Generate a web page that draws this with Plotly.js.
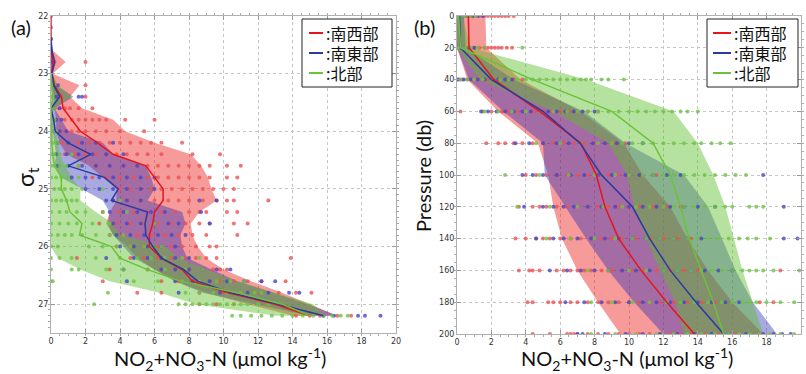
<!DOCTYPE html>
<html><head><meta charset="utf-8">
<script src="https://cdn.plot.ly/plotly-3.0.1.min.js"></script>
<style>html,body{margin:0;padding:0;background:#fff}#chart{width:806px;height:374px}</style>
</head><body><div id="chart"></div>
<script>
// ---------- Names ----------
const seriesNames = ['南西部', '南東部', '北部'];
const xTicks = [0, 2, 4, 6, 8, 10, 12, 14, 16, 18, 20];
const sigmaTicks = [22, 23, 24, 25, 26, 27];
const pressTicks = [0, 20, 40, 60, 80, 100, 120, 140, 160, 180, 200];

// ---------- Panel (a): sigma-t ----------
const aSigRed = [22.0,22.2,22.4,22.6,22.8,23.0,23.2,23.4,23.6,23.8,24.0,24.2,24.4,24.6,24.8,25.0,25.2,25.4,25.6,25.8,26.0,26.2,26.4,26.6,26.8,27.0,27.2];
const aMeanRed = [0,0,0,0,0.1,0.05,0.2,0.6,0.7,1.2,1.7,2.7,3.6,5.5,6.0,6.5,6.5,6.0,5.9,5.7,5.7,6.4,7.6,8.2,10.2,13.0,15.0];
const aLowRed  = [0,0,0,0,0,0,0,0.2,0.2,0.3,0.3,0.5,0.9,2.2,3.0,3.8,3.8,3.4,3.2,3.6,4.4,5.0,6.0,7.2,9.0,11.4,14.0];
const aHighRed = [0,0,0,0.1,0.85,0.1,1.65,1.1,1.8,3.6,4.3,6.0,8.1,8.7,9.1,9.3,9.6,8.6,8.1,8.2,8.5,9.0,10.0,11.6,13.4,15.0,16.6];

const aSigBlue = [22.4,22.6,22.8,23.0,23.2,23.4,23.6,23.8,24.0,24.2,24.4,24.6,24.8,25.0,25.2,25.4,25.6,25.8,26.0,26.2,26.4,26.6,26.8,27.0,27.2];
const aMeanBlue = [0,0.05,0.2,0.05,0.15,0.5,0,0.15,0.25,1.0,2.3,1.0,3.1,3.9,3.5,5.6,5.45,5.5,5.9,6.4,7.7,8.5,10.4,13.2,15.8];
const aLowBlue  = [0,0,0,0,0,0.1,0,0,0.1,0.2,0.3,0.2,0.6,1.8,3.0,3.4,3.3,3.6,4.2,4.8,6.0,7.2,8.8,11.8,15.0];
const aHighBlue = [0.05,0.1,0.3,0.1,0.3,1.3,0.2,0.6,1.0,3.0,3.6,5.5,5.8,6.0,5.6,7.6,7.8,7.5,7.6,7.9,9.3,10.8,12.8,14.9,16.6];

const aSigGreen = [23.0,23.2,23.4,23.6,23.8,24.0,24.2,24.4,24.6,24.8,25.0,25.2,25.4,25.6,25.8,26.0,26.2,26.4,26.6,26.8,27.0,27.2];
const aMeanGreen = [0,0.05,0.1,0,0,0.05,0.05,0.1,0.2,0.6,0.6,0.9,1.1,1.8,1.65,3.5,4.0,5.6,7.5,10.8,13.4,15.0];
const aLowGreen  = [0,0,0,0,0,0,0,0,0,0,0,0,0,0,0,0,0.4,1.7,3.4,6.3,8.4,13.0];
const aHighGreen = [0.1,0.4,1.2,0.1,0.2,0.3,0.4,0.5,0.8,1.2,1.7,1.7,2.6,3.6,4.0,6.6,7.4,9.0,10.8,13.0,15.2,16.0];

// observations per sigma level (panel a)
const aPtSigRed = aSigRed;
const aPtRed = [[0],[0],[0],[0],[0,0.2,2.0],[0],[0.2,2.0],[0.3,0.6,2.0],[0.2,0.5,0.8,1.1,1.6,2.4],
  [0.3,0.8,1.2,1.6,2.0,2.4,2.8,3.2,4.3,6.0],[0.4,0.8,1.2,1.6,2.0,2.6,3.2,4.0,5.4],
  [0.6,1.0,1.6,2.2,2.8,3.4,4.0,4.6,5.2,5.8,6.4,7.6],[0.8,1.4,2.0,2.6,3.2,3.8,4.4,5.0,5.6,6.4,8.2,9.8],
  [1.6,2.6,3.4,4.2,5.0,5.6,6.2,6.8,7.4,8.0,8.6,9.2,10.2,11.0],[2.4,3.2,4.0,4.8,5.6,6.2,6.8,7.4,8.0,8.6,9.2,10.2,10.8],
  [4.0,4.6,5.2,5.8,6.4,7.0,7.6,8.2,8.8,9.4,10.0,10.6],[3.6,4.4,5.2,6.0,6.8,7.4,8.0,8.8,9.6,10.2,10.6,12.6],
  [3.0,4.0,4.8,5.6,6.4,7.2,8.0,8.6,9.0,10.2,10.8],[2.8,3.8,4.6,5.4,6.2,7.0,7.8,8.6,9.2,10.6,11.4],
  [3.4,4.2,5.0,5.8,6.6,7.4,8.2,9.0,10.8],[3.8,4.6,5.4,6.2,7.0,7.6,8.4,9.2,9.6],
  [1.5,4.6,5.4,6.2,7.0,7.8,8.4,9.0,9.6,13.9],[3.4,5.6,6.4,7.2,8.0,8.8,9.4,9.8,10.2],
  [3.0,6.4,7.4,8.4,9.2,9.8,10.6,11.4,12.2,13.6],[5.0,6.4,8.6,10.0,11.0,12.2,13.2,14.2,15.1],
  [8.6,9.6,10.6],[14.2,15.0,15.6,16.6,17.4]];
const aPtSigBlue = aSigBlue;
const aPtBlue = [[0],[0],[0],[0],[0.4],[0.3,1.6,1.8],[0.2,0.5],[0.3,0.6],[0.2,0.5,0.9],[0.4,1.0,1.8,2.6,3.6],
  [0.3,0.9,1.6,2.4,3.2,4.2],[0.4,1.0,1.8,2.6,3.4,4.2,5.0],[1.2,2.0,2.8,3.6,4.4,5.2,6.0],[2.0,2.8,3.6,4.4,5.2,6.0],
  [3.2,3.6,4.4,5.2,8.6,9.6],[3.4,4.2,5.0,5.8,6.6,8.7],[3.6,4.4,5.2,6.0,6.8,7.4,9.2],[3.8,4.6,5.4,6.2,7.0,7.8],
  [4.0,4.8,5.6,6.4,7.2],[3.2,4.8,5.6,6.4,7.2,8.0],[4.2,6.4,7.2,8.0,8.8,9.6,10.4],[4.4,7.2,8.2,9.2,10.2,11.2,12.2,13.0],
  [7.4,9.8,11.4,12.6,13.8,14.4],[],[15.8,16.4,17.8,18.2,19.1]];
const aPtSigGreen = aSigGreen;
const aPtGreen = [[0],[0,0.2],[0,0.1],[0,0.2],[0,0.2],[0,0.1,0.3],[0,0.2,0.4],[0,0.2,0.5,1.2],[0,0.2,0.5,0.9,1.6],
  [0,0.3,0.6,1.0,1.6],[0.2,0.5,0.8,1.2,1.8,3.0],[0,0.3,0.6,0.9,1.2,1.5,4.0],[0,0.5,0.9,1.5,2.0,3.0,4.4],
  [0,0.5,1.0,1.5,2.4,3.4,6.0],[0,0.4,0.8,1.2,1.8,2.6,3.4,4.2],[0,0.4,2.2,3.0,3.8,4.6,5.4,6.4],
  [0,0.5,1.2,2.6,4.0,5.0,5.8,6.6,7.6,8.6],[0,1.2,1.6,3.2,4.2,5.6,6.6,7.8,8.8],[0,0.1,4.8,6.2,7.6,8.6,9.6,10.4,11.2],
  [3.3,7.8,8.6,9.4,10.2,11.0,11.8,12.2],[2.5,7.4,7.8,8.2,8.6,9.0,9.4,9.8,10.2,10.6,11.0,11.4,12.0,12.6,13.2],
  [10.5,11.0,11.6,12.2,12.8,13.4,14.0,14.6,15.2,15.8,16.3,16.8,17.2]];

// ---------- Panel (b): pressure ----------
const bPress = [0,20,40,60,80,100,120,140,160,180,200];
const bMeanRed = [0.66,0.7,2.15,4.8,7.2,8.1,8.6,9.4,10.7,12.2,13.8];
const bLowRed  = [0,0,0.6,2.4,4.7,5.3,5.6,6.1,7.0,8.2,9.5];
const bHighRed = [1.65,1.7,3.7,7.2,9.7,10.8,12.4,13.4,14.6,16.0,17.8];
const bMeanBlue = [0.15,0.2,2.0,5.0,7.15,8.4,10.2,11.2,12.4,13.9,15.5];
const bLowBlue  = [0,0,0.7,2.7,5.0,5.1,6.3,7.5,8.8,10.3,12.0];
const bHighBlue = [0.4,0.5,3.3,7.4,9.8,13.2,14.6,15.4,16.2,17.2,18.6];
const bMeanGreen = [0.1,0.2,4.4,9.0,11.4,12.4,13.0,13.5,14.2,14.9,15.5];
const bLowGreen  = [0,0,1.3,5.6,8.8,9.9,10.3,11.0,11.8,12.7,13.2];
const bHighGreen = [0.3,0.8,7.5,12.6,14.0,14.9,15.6,16.1,16.6,17.2,17.8];

const bPtRed = [[0.2,0.5,0.8,1.0,1.3,1.6,1.8,2.0,2.2,2.4,2.6,2.8,3.0,3.3],
  [0.1,0.3,0.5,0.7,1.0,1.3,1.6,1.8,2.0,2.2,2.4,2.6,2.9,3.2],
  [0.0,0.3,0.6,0.9,1.2,1.5,1.8,2.1,2.5,2.9,3.3,3.8],
  [0.2,1.5,2.0,2.6,3.0,3.5,4.0,4.5,5.0,5.5,6.0,6.5,7.0,7.6,8.2],
  [1.7,2.4,2.8,3.3,3.8,4.4,5.0,5.6,6.2,6.8,7.4,8.0,8.6,9.2,9.8],
  [4.0,4.6,5.2,5.8,6.4,7.0,7.6,8.2,8.8,9.4,10.0,10.8,11.6],
  [3.6,4.4,4.8,5.2,5.8,6.4,7.0,7.6,8.2,8.8,9.4,10.0,10.6,11.4,12.2,13.0],
  [3.4,4.0,4.6,5.0,5.4,6.0,6.6,7.2,7.8,8.4,9.0,9.6,10.4,11.2,12.0,12.8,13.6],
  [3.6,4.2,4.4,4.8,5.8,6.2,6.6,7.0,7.4,7.8,8.4,9.0,9.6,10.2,10.8,11.6,12.4,13.2,14.0,18.8],
  [4.1,4.4,5.3,5.6,6.0,6.6,7.0,7.6,8.2,8.8,9.4,10.0,10.6,11.2,11.8,12.6,13.4,14.2,15.0,17.6,18.4],
  [4.4,5.4,6.4,6.6,6.8,7.0,7.6,8.2,8.8,9.4,10.0,10.6,11.2,11.8,12.4,13.0,13.6,14.4,15.2,16.2,17.6]];
const bPtBlue = [[0.1,0.3,0.6,0.9,1.2,1.5],[0.0,0.2,0.4,0.7,1.0],[0.1,0.4,0.8,1.2,1.6,2.0,2.4,2.8,3.2],
  [1.4,1.8,2.3,2.8,3.3,3.8,4.3,4.8,5.3,5.8,6.3,6.8,7.3,8.0],
  [3.4,4.2,5.0,5.8,6.5,7.2,7.9,8.6,9.3,10.0,10.8],
  [3.8,4.4,5.0,5.8,6.6,7.4,8.2,9.0,9.8,10.6,11.4,12.2,13.0,17.8],
  [3.9,5.0,5.6,6.2,6.8,7.6,8.4,9.2,10.0,10.8,11.6,12.4,13.2,14.0,15.0,19.0],
  [4.6,5.6,6.2,7.0,7.8,8.6,9.4,10.2,11.0,11.8,12.6,13.4,14.2,19.0,19.8],
  [5.4,6.4,7.2,8.0,8.8,9.6,10.4,11.2,12.0,12.8,13.6,14.4,15.2,16.0],
  [6.3,7.4,8.4,9.2,10.0,10.8,11.6,12.4,13.2,14.0,14.8,15.6,16.4],
  [7.0,7.3,8.6,9.8,10.8,11.8,12.8,13.8,14.8,15.8,16.8,17.8,18.4,18.9,19.4]];
const bPtGreen = [[0.0,0.1,0.2,0.4,0.6,0.8,1.1],[0.0,0.1,0.3,0.5,0.8,1.2,1.6,3.8],
  [0.2,0.6,1.0,1.5,2.0,2.5,3.0,3.5,4.0,4.4,4.8,5.2,5.6,6.0,6.4,6.8,7.2,7.5,7.8,8.4,8.8,9.7],
  [1.6,2.4,3.2,4.0,4.8,5.6,6.4,7.0,7.6,8.2,8.8,9.4,10.0,10.5,11.0,11.5,12.0,12.5,13.0,13.4,14.0],
  [4.6,6.0,7.2,8.2,9.0,9.6,10.2,10.8,11.4,12.0,12.6,13.2,13.8,14.2,14.8,15.3,15.9],
  [2.8,4.8,6.5,8.0,9.2,10.0,10.8,11.4,12.0,12.6,13.2,13.8,14.4,15.0,15.6,16.2,16.8],
  [3.5,5.4,7.0,8.5,9.6,10.4,11.2,12.0,12.6,13.2,13.8,14.4,15.0,15.6,16.0,17.0,17.4,17.8],
  [5.2,6.6,8.0,9.2,10.2,11.0,11.8,12.6,13.4,14.0,14.6,15.2,15.8,16.4,16.9,17.4,18.2],
  [7.6,8.8,10.0,11.0,12.0,12.8,13.6,14.2,14.8,15.4,16.0,16.6,17.0,17.4,17.8,18.4,19.9],
  [7.8,9.0,10.2,11.2,12.2,13.0,13.8,14.6,15.4,16.0,16.6,17.0,17.4,18.0,18.8,19.6],
  [7.8,9.2,10.4,11.6,12.6,13.4,14.2,15.0,15.8,16.4,17.0,17.6,18.2,18.8,19.6]];

// ---------- styles ----------
const W = 806, H = 374;
const lineCol = ['#e8141c', '#2b3a9e', '#6cc13a'];
const fillCol = ['rgba(235,30,30,0.45)', 'rgba(40,40,180,0.40)', 'rgba(90,190,40,0.45)'];
const dotCol = ['rgba(238,80,80,0.8)', 'rgba(70,70,200,0.8)', 'rgba(110,195,70,0.8)'];
const px = v => v / W, py = v => 1 - v / H;

function band(lev, lo, hi, i, xa, ya) {
  return {type: 'scatter', mode: 'lines', x: lo.concat(hi.slice().reverse()), y: lev.concat(lev.slice().reverse()),
    fill: 'toself', fillcolor: fillCol[i], line: {width: 0}, hoverinfo: 'skip', showlegend: false, xaxis: xa, yaxis: ya};
}
function meanLine(lev, m, i, xa, ya) {
  return {type: 'scatter', mode: 'lines', x: m, y: lev, line: {color: lineCol[i], width: 1.5}, name: seriesNames[i],
    showlegend: false, xaxis: xa, yaxis: ya};
}
function pts(lev, lists, i, xa, ya) {
  const x = [], y = [];
  lists.forEach((row, k) => row.forEach(v => { x.push(v); y.push(lev[k]); }));
  return {type: 'scatter', mode: 'markers', x, y, marker: {size: 4, color: dotCol[i]}, hoverinfo: 'skip', showlegend: false, xaxis: xa, yaxis: ya};
}

const traces = [
  band(aSigRed, aLowRed, aHighRed, 0, 'x', 'y'),
  band(aSigBlue, aLowBlue, aHighBlue, 1, 'x', 'y'),
  band(aSigGreen, aLowGreen, aHighGreen, 2, 'x', 'y'),
  pts(aPtSigRed, aPtRed, 0, 'x', 'y'),
  pts(aPtSigBlue, aPtBlue, 1, 'x', 'y'),
  pts(aPtSigGreen, aPtGreen, 2, 'x', 'y'),
  meanLine(aSigRed, aMeanRed, 0, 'x', 'y'),
  meanLine(aSigBlue, aMeanBlue, 1, 'x', 'y'),
  meanLine(aSigGreen, aMeanGreen, 2, 'x', 'y'),
  band(bPress, bLowRed, bHighRed, 0, 'x2', 'y2'),
  band(bPress, bLowBlue, bHighBlue, 1, 'x2', 'y2'),
  band(bPress, bLowGreen, bHighGreen, 2, 'x2', 'y2'),
  pts(bPress, bPtRed, 0, 'x2', 'y2'),
  pts(bPress, bPtBlue, 1, 'x2', 'y2'),
  pts(bPress, bPtGreen, 2, 'x2', 'y2'),
  meanLine(bPress, bMeanRed, 0, 'x2', 'y2'),
  meanLine(bPress, bMeanBlue, 1, 'x2', 'y2'),
  meanLine(bPress, bMeanGreen, 2, 'x2', 'y2')
];

const tickFont = {family: 'DejaVu Sans, sans-serif', size: 8, color: '#333'};
function axis(extra) {
  return Object.assign({showline: true, linecolor: '#b0b0b0', linewidth: 1, mirror: 'allticks', ticks: 'inside',
    ticklen: 4, tickcolor: '#999', showgrid: true, gridcolor: '#c4c4c4', griddash: 'dot', gridwidth: 1,
    zeroline: false, tickfont: tickFont, fixedrange: true}, extra);
}

const shapes = [], annotations = [];
const titleFont = {family: 'Lato, Open Sans, sans-serif', size: 20, color: '#111'};
function note(x, y, text, font, extra) {
  annotations.push(Object.assign({xref: 'paper', yref: 'paper', x: px(x), y: py(y), text, showarrow: false,
    xanchor: 'center', yanchor: 'middle', font}, extra || {}));
}
note(21, 27, '(a)', titleFont);
note(424, 27, '(b)', titleFont);
note(26, 177, 'σ<sub>t</sub>', {family: 'Lato, sans-serif', size: 23, color: '#111'}, {textangle: -90});
note(423, 176, 'Pressure (db)', titleFont, {textangle: -90});
const xTitle = 'NO<sub>2</sub>+NO<sub>3</sub>-N (μmol kg<sup>-1</sup>)';
note(220, 359, xTitle, titleFont);
note(627, 359, xTitle, titleFont);

// manual legends
[[302, 392, 309, 323, 324], [707, 798, 713, 731, 732]].forEach(([bx0, bx1, lx0, lx1, tx]) => {
  shapes.push({type: 'rect', xref: 'paper', yref: 'paper', x0: px(bx0), x1: px(bx1), y0: py(87), y1: py(19),
    line: {color: '#222', width: 1}, fillcolor: 'white', layer: 'above'});
  [33, 53, 73].forEach((ry, i) => {
    shapes.push({type: 'line', xref: 'paper', yref: 'paper', x0: px(lx0), x1: px(lx1), y0: py(ry), y1: py(ry),
      line: {color: lineCol[i], width: 2}, layer: 'above'});
    note(tx, ry, ':' + seriesNames[i], {family: 'Noto Sans CJK JP, sans-serif', size: 16, color: '#111'}, {xanchor: 'left'});
  });
});

const layout = {
  width: W, height: H, margin: {l: 0, r: 0, t: 0, b: 0}, paper_bgcolor: '#fff', plot_bgcolor: '#fff', showlegend: false,
  xaxis: axis({domain: [px(51), px(396)], range: [0, 20], tickvals: xTicks, anchor: 'y',
    minor: {dtick: 0.5, ticklen: 2, tickcolor: '#aaa', showgrid: false}}),
  yaxis: axis({domain: [py(333), py(16)], range: [27.5, 22], tickvals: sigmaTicks, anchor: 'x',
    minor: {dtick: 0.1, ticklen: 2, tickcolor: '#aaa', showgrid: false}}),
  xaxis2: axis({domain: [px(457), px(801)], range: [0, 20], tickvals: xTicks, anchor: 'y2',
    minor: {dtick: 0.5, ticklen: 2, tickcolor: '#aaa', showgrid: false}}),
  yaxis2: axis({domain: [py(334), py(16)], range: [200, 0], tickvals: pressTicks, anchor: 'x2',
    minor: {dtick: 5, ticklen: 2, tickcolor: '#aaa', showgrid: false}}),
  shapes, annotations
};
Plotly.newPlot('chart', traces, layout, {displayModeBar: false, staticPlot: true});
</script></body></html>
